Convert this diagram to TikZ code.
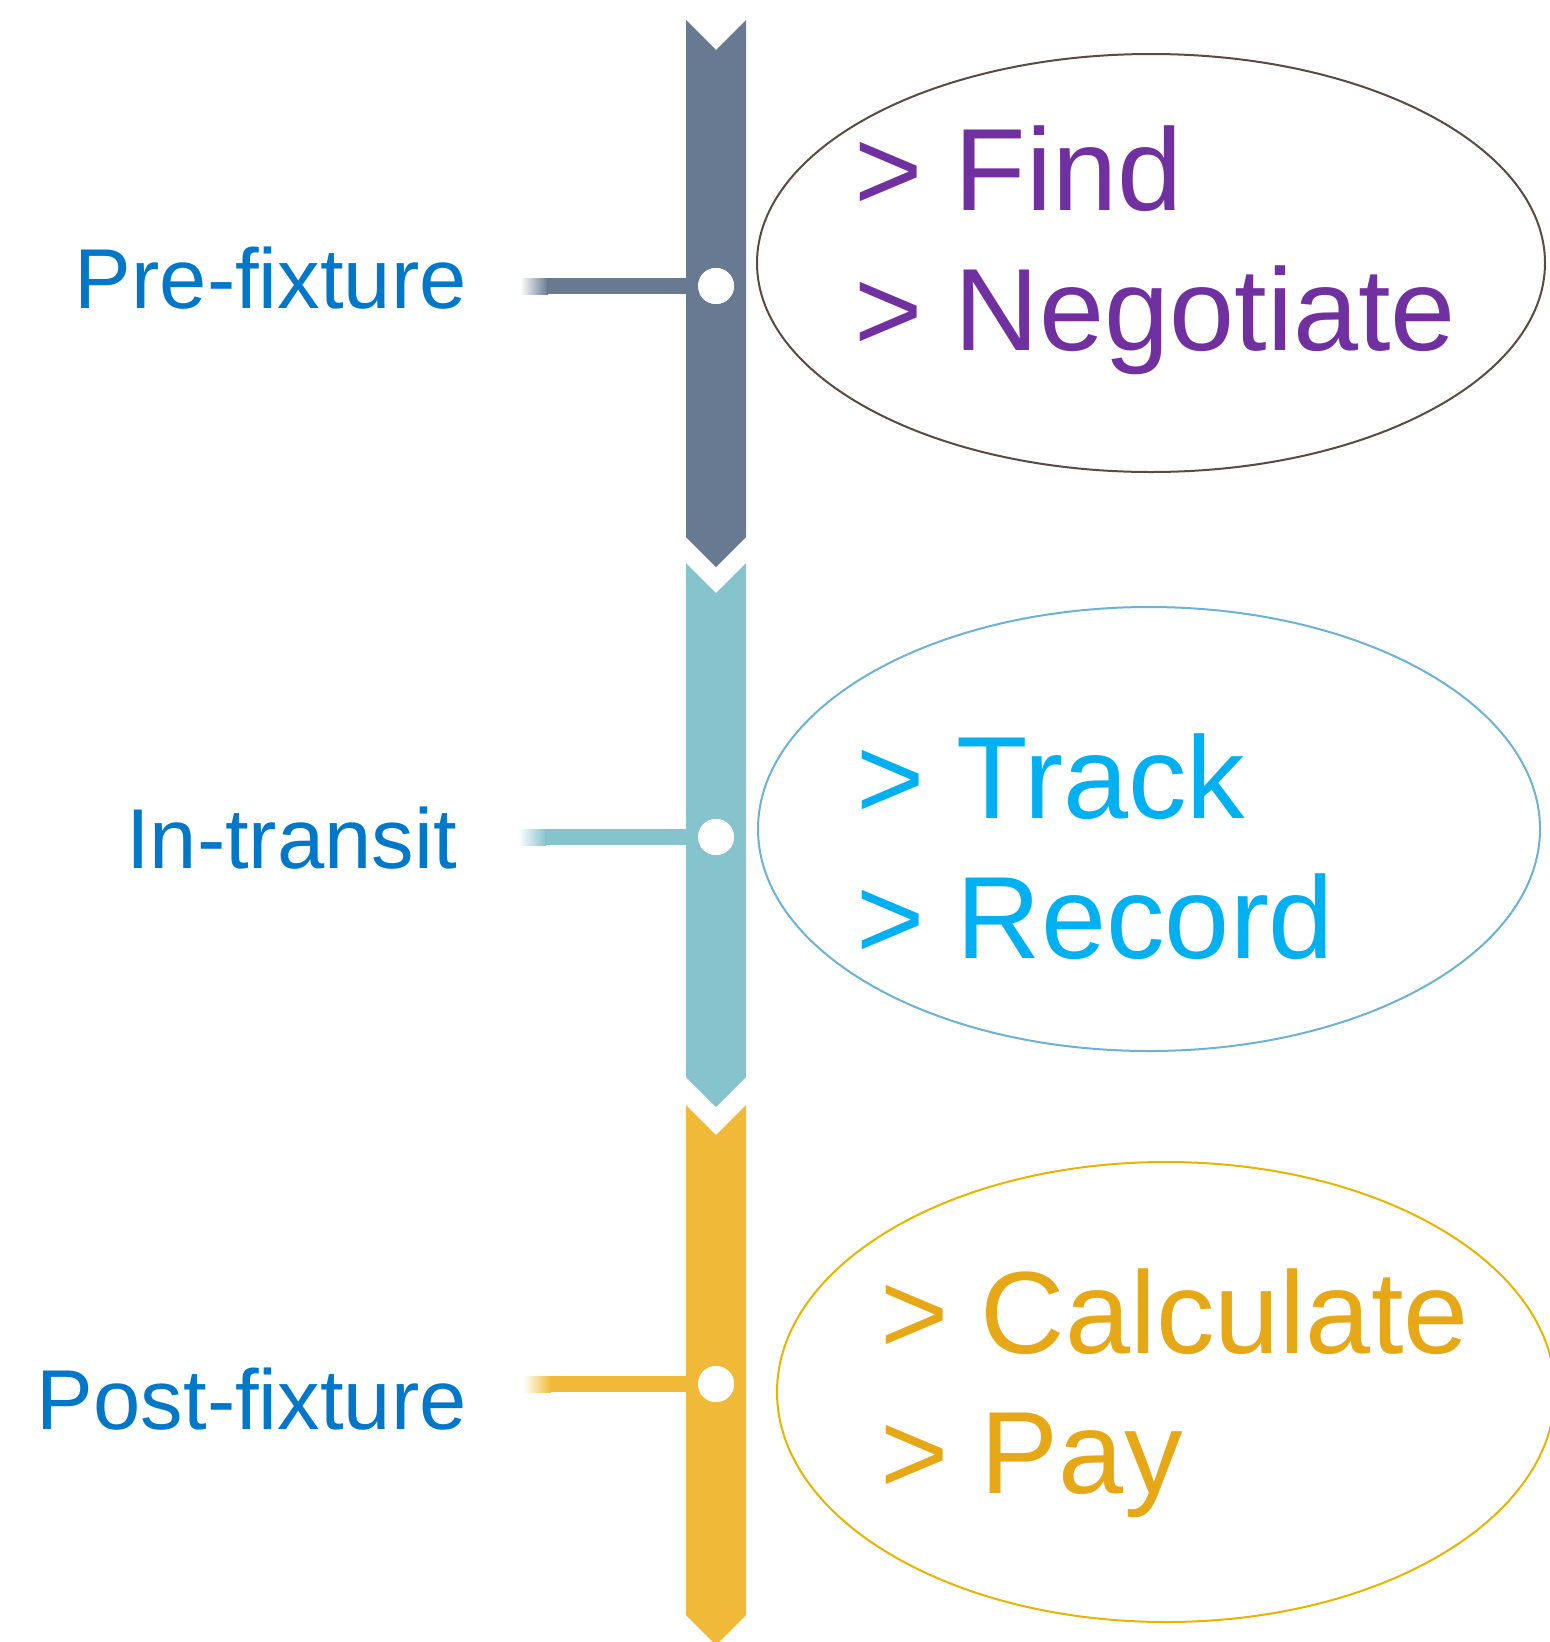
\documentclass[tikz,border=0pt]{standalone}
\usepackage{fontspec}
\setmainfont{Liberation Sans}
\usetikzlibrary{shapes.geometric}
\definecolor{slate}{HTML}{687A92}
\definecolor{teal2}{HTML}{86C4CD}
\definecolor{gold2}{HTML}{F0BA38}
\definecolor{lblue}{HTML}{0077C8}
\definecolor{purp}{HTML}{7030A0}
\definecolor{cyan2}{HTML}{00B0F0}
\definecolor{goldtxt}{HTML}{E6A817}
\definecolor{ebrown}{HTML}{5B4A41}
\definecolor{eblue}{HTML}{6CB2D6}
\definecolor{egold}{HTML}{E8B400}
\tikzset{
  big/.style={anchor=base west, inner sep=0pt, font=\fontsize{117}{140}\selectfont},
  lbl/.style={anchor=base east, inner sep=0pt, text=lblue, font=\fontsize{85}{100}\selectfont},
  dot/.style={circle, fill=white, minimum size=36pt, inner sep=0pt},
  oval/.style={ellipse, draw, line width=2pt, inner sep=0pt},
}
\begin{document}
\begin{tikzpicture}[x=1pt, y=-1pt]
\useasboundingbox (0,0) rectangle (1550,1642);
% bar segments
\fill[slate] (686,20) -- (716,50) -- (746,20) -- (746,537) -- (716,567) -- (686,537) -- cycle;
\fill[teal2] (686,563) -- (716,593) -- (746,563) -- (746,1077) -- (716,1107) -- (686,1077) -- cycle;
\fill[gold2] (686,1105) -- (716,1135) -- (746,1105) -- (746,1615) -- (716,1645) -- (686,1615) -- cycle;
% connector fades
\shade[left color=white, right color=slate] (520,278) rectangle (548,294);
\shade[left color=white, right color=teal2] (518,829) rectangle (546,845);
\shade[left color=white, right color=gold2] (523,1376) rectangle (551,1392);
% free ends
\coordinate (a1) at (547,286);
\coordinate (a2) at (545,837);
\coordinate (a3) at (550,1384);
% dots
\node[dot] (d1) at (716,286) {};
\node[dot] (d2) at (716,837) {};
\node[dot] (d3) at (716,1384) {};
% connectors
\draw[slate, line width=16pt] (a1) -- (d1.center);
\draw[teal2, line width=16pt] (a2) -- (d2.center);
\draw[gold2, line width=16pt] (a3) -- (d3.center);
\node[dot] at (d1.center) {};
\node[dot] at (d2.center) {};
\node[dot] at (d3.center) {};
% labels
\node[lbl] (l1) at (467,308) {Pre-fixture};
\node[lbl] (l2) at (457,868) {In-transit};
\node[lbl] (l3) at (467,1429) {Post-fixture};
% ellipses
\node[oval, draw=ebrown, minimum width=788pt, minimum height=418pt] (e1) at (1151,263) {};
\node[oval, draw=eblue, minimum width=782pt, minimum height=444pt] (e2) at (1149,829) {};
\node[oval, draw=egold, minimum width=778pt, minimum height=460pt] (e3) at (1166,1392) {};
% texts
\node[big, text=purp] (t1) at (854,210) {> Find};
\node[big, text=purp] (t2) at (854,350) {> Negotiate};
\node[big, text=cyan2] (t3) at (856,818) {> Track};
\node[big, text=cyan2] (t4) at (856,958) {> Record};
\node[big, text=goldtxt] (t5) at (880,1353) {> Calculate};
\node[big, text=goldtxt] (t6) at (880,1493) {> Pay};
\end{tikzpicture}
\end{document}
